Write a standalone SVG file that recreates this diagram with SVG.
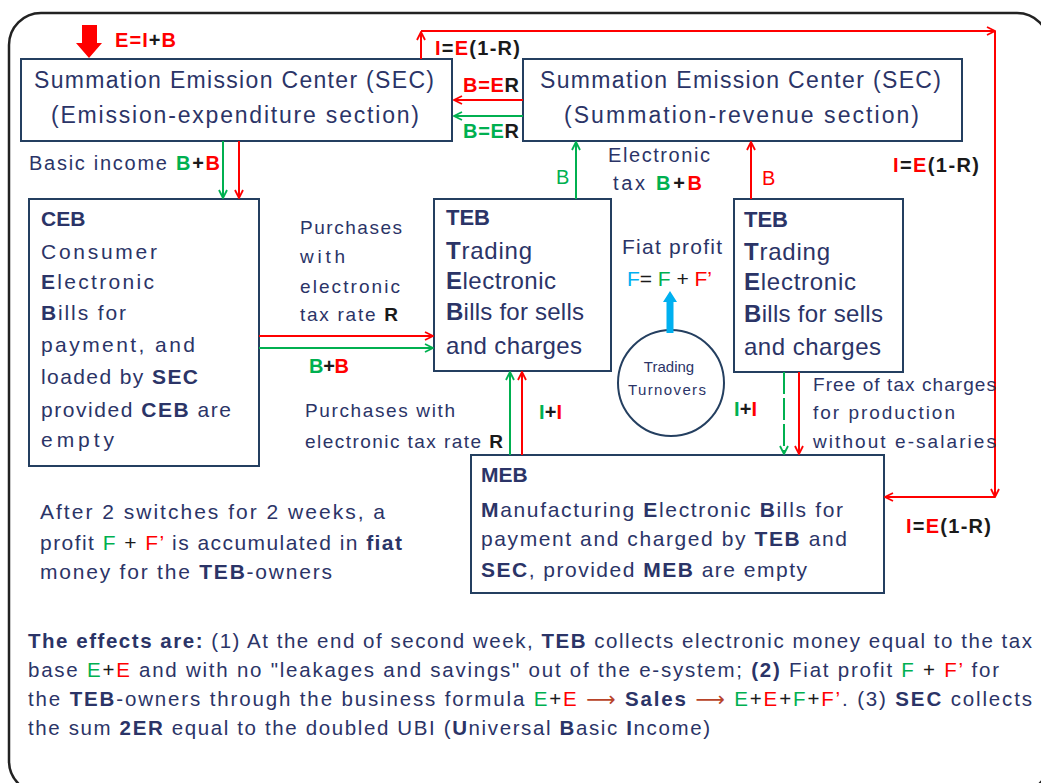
<svg xmlns="http://www.w3.org/2000/svg" width="1041" height="783" viewBox="0 0 1041 783">
<style>
.t{font-family:"Liberation Sans",Arial,sans-serif;fill:#2B3467;}
.b{font-weight:bold;}
.r{fill:#FF0000;}
.g{fill:#00B050;}
.k{fill:#1A1A1A;}
.c{fill:#00B0F0;}
.br{fill:#B8442A;}
.box{fill:#FFFFFF;stroke:#243F60;stroke-width:2;}
.lr{stroke:#FF0000;stroke-width:2;fill:none;}
.lg{stroke:#00B050;stroke-width:2;fill:none;}
</style>
<defs>
<marker id="ar" viewBox="0 0 10 10" refX="9" refY="5" markerWidth="10" markerHeight="10" markerUnits="userSpaceOnUse" orient="auto"><path d="M1,1 L9,5 L1,9" fill="none" stroke="#FF0000" stroke-width="1.8"/></marker>
<marker id="ag" viewBox="0 0 10 10" refX="9" refY="5" markerWidth="10" markerHeight="10" markerUnits="userSpaceOnUse" orient="auto"><path d="M1,1 L9,5 L1,9" fill="none" stroke="#00B050" stroke-width="1.8"/></marker>
</defs>
<rect width="1041" height="783" fill="#FFFFFF"/>
<rect x="9" y="13" width="1040" height="780" rx="32" fill="#FFFFFF" stroke="#222222" stroke-width="2.5"/>

<g id="sec-left">
<rect class="box" x="21" y="59" width="431" height="82"/>
<text class="t" x="34" y="88" font-size="23" textLength="400">Summation  Emission Center (SEC)</text>
<text class="t" x="51" y="123" font-size="23" textLength="368">(Emission-expenditure section)</text>
</g>
<g id="sec-right">
<rect class="box" x="523" y="59" width="439" height="82"/>
<text class="t" x="540" y="88" font-size="23" textLength="401">Summation  Emission Center (SEC)</text>
<text class="t" x="564" y="123" font-size="23" textLength="355">(Summation-revenue  section)</text>
</g>
<g id="ceb">
<rect class="box" x="29" y="199" width="230" height="267"/>
<text class="t b" x="41" y="226" font-size="21">CEB</text>
<text class="t" x="41" y="259" font-size="21" textLength="116">Consumer</text>
<text class="t" x="41" y="289" font-size="21" textLength="113"><tspan class="b">E</tspan>lectronic</text>
<text class="t" x="41" y="320" font-size="21" textLength="85"><tspan class="b">B</tspan>ills for</text>
<text class="t" x="41" y="352" font-size="21" textLength="154">payment, and</text>
<text class="t" x="41" y="384" font-size="21" textLength="157">loaded by <tspan class="b">SEC</tspan></text>
<text class="t" x="41" y="417" font-size="21" textLength="190">provided <tspan class="b">CEB</tspan> are</text>
<text class="t" x="41" y="447" font-size="21" textLength="73">empty</text>
</g>
<g id="teb-left">
<rect class="box" x="434" y="199" width="177" height="172"/>
<text class="t b" x="446" y="225" font-size="22">TEB</text>
<text class="t" x="446" y="259" font-size="24" textLength="86"><tspan class="b">T</tspan>rading</text>
<text class="t" x="446" y="289" font-size="24" textLength="110"><tspan class="b">E</tspan>lectronic</text>
<text class="t" x="446" y="320" font-size="24" textLength="138"><tspan class="b">B</tspan>ills for sells</text>
<text class="t" x="446" y="354" font-size="24" textLength="136">and charges</text>
</g>
<g id="teb-right">
<rect class="box" x="734" y="199" width="169" height="173"/>
<text class="t b" x="744" y="227" font-size="22">TEB</text>
<text class="t" x="744" y="260" font-size="24" textLength="86"><tspan class="b">T</tspan>rading</text>
<text class="t" x="744" y="290" font-size="24" textLength="112"><tspan class="b">E</tspan>lectronic</text>
<text class="t" x="744" y="322" font-size="24" textLength="139"><tspan class="b">B</tspan>ills for sells</text>
<text class="t" x="744" y="355" font-size="24" textLength="137">and charges</text>
</g>
<g id="meb">
<rect class="box" x="471" y="455" width="413" height="138"/>
<text class="t b" x="481" y="482" font-size="21">MEB</text>
<text class="t" x="481" y="517" font-size="21" textLength="362"><tspan class="b">M</tspan>anufacturing <tspan class="b">E</tspan>lectronic <tspan class="b">B</tspan>ills for</text>
<text class="t" x="481" y="546" font-size="21" textLength="366">payment and charged by <tspan class="b">TEB</tspan> and</text>
<text class="t" x="481" y="577" font-size="21" textLength="326"><tspan class="b">SEC</tspan>, provided <tspan class="b">MEB</tspan> are empty</text>
</g>
<g id="trading-turnovers">
<circle cx="671" cy="383" r="53" fill="#FFFFFF" stroke="#243F60" stroke-width="2"/>
<text class="t" x="669" y="372" font-size="15" text-anchor="middle">Trading</text>
<text class="t" x="667" y="395" font-size="15" text-anchor="middle" textLength="78">Turnovers</text>
</g>

<g id="connectors">
<path class="lg" d="M223,141 V198" marker-end="url(#ag)"/>
<path class="lr" d="M239,141 V198" marker-end="url(#ar)"/>
<path class="lr" d="M259,336 H433" marker-end="url(#ar)"/>
<path class="lg" d="M259,348 H433" marker-end="url(#ag)"/>
<path class="lr" d="M523,100 H454" marker-end="url(#ar)"/>
<path class="lg" d="M523,116 H454" marker-end="url(#ag)"/>
<path class="lg" d="M576,199 V142" marker-end="url(#ag)"/>
<path class="lr" d="M751,199 V142" marker-end="url(#ar)"/>
<path class="lg" d="M510,455 V372" marker-end="url(#ag)"/>
<path class="lr" d="M522,455 V372" marker-end="url(#ar)"/>
<path class="lg" d="M784,372 V454" stroke-dasharray="22 4" marker-end="url(#ag)"/>
<path class="lr" d="M799,372 V454" marker-end="url(#ar)"/>
<path class="lr" d="M421,59 V32" marker-end="url(#ar)"/>
<path class="lr" d="M421,31 H995" marker-end="url(#ar)"/>
<path class="lr" d="M995,31 V497" marker-end="url(#ar)"/>
<path class="lr" d="M995,497 H885" marker-end="url(#ar)"/>
<polygon points="82,25 97,25 97,43 102,43 89,58 76,43 82,43" fill="#FF0000"/>
<polygon points="666.5,333 673.5,333 673.5,302 677,302 670,291 663,302 666.5,302" fill="#00B0F0"/>
</g>

<g id="labels">
<text class="t r b" x="115" y="47" font-size="20" textLength="61">E=I<tspan class="k">+</tspan>B</text>
<text class="t k b" x="435" y="55" font-size="20" textLength="85"><tspan class="r">I</tspan>=<tspan class="r">E</tspan>(1-R)</text>
<text class="t r b" x="463" y="92" font-size="20" textLength="56">B=E<tspan class="k">R</tspan></text>
<text class="t g b" x="463" y="138" font-size="20" textLength="56">B=E<tspan class="k">R</tspan></text>
<text class="t" x="29" y="170" font-size="20" textLength="191">Basic income <tspan class="g b">B</tspan><tspan class="k b">+</tspan><tspan class="r b">B</tspan></text>
<text class="t" x="608" y="162" font-size="20" textLength="102">Electronic</text>
<text class="t" x="613" y="190" font-size="20" textLength="89">tax  <tspan class="g b">B</tspan><tspan class="k b">+</tspan><tspan class="r b">B</tspan></text>
<text class="t g" x="556" y="184" font-size="20">B</text>
<text class="t r" x="762" y="185" font-size="20">B</text>
<text class="t k b" x="893" y="172" font-size="20" textLength="86"><tspan class="r">I</tspan>=<tspan class="r">E</tspan>(1-R)</text>
<text class="t" x="300" y="234" font-size="19" textLength="102">Purchases</text>
<text class="t" x="300" y="263" font-size="19" textLength="45">with</text>
<text class="t" x="300" y="293" font-size="19" textLength="100">electronic</text>
<text class="t" x="300" y="321" font-size="19" textLength="98">tax rate <tspan class="k b">R</tspan></text>
<text class="t b" x="309" y="373" font-size="20" textLength="40"><tspan class="g">B</tspan><tspan class="k">+</tspan><tspan class="r">B</tspan></text>
<text class="t" x="305" y="417" font-size="19" textLength="150">Purchases with</text>
<text class="t" x="305" y="448" font-size="19" textLength="198">electronic  tax rate <tspan class="k b">R</tspan></text>
<text class="t" x="622" y="254" font-size="21" textLength="100">Fiat profit</text>
<text class="t k" x="627" y="286" font-size="21" textLength="85"><tspan class="c">F</tspan>= <tspan class="g">F</tspan> + <tspan class="r">F’</tspan></text>
<text class="t k b" x="539" y="419" font-size="20" textLength="23"><tspan class="g">I</tspan>+<tspan class="r">I</tspan></text>
<text class="t k b" x="734" y="416" font-size="20" textLength="23"><tspan class="g">I</tspan>+<tspan class="r">I</tspan></text>
<text class="t" x="813" y="391" font-size="19" textLength="183">Free of tax charges</text>
<text class="t" x="813" y="419" font-size="19" textLength="142">for production</text>
<text class="t" x="813" y="448" font-size="19" textLength="183">without  e-salaries</text>
<text class="t k b" x="906" y="533" font-size="20" textLength="85"><tspan class="r">I</tspan>=<tspan class="r">E</tspan>(1-R)</text>
<text class="t" x="40" y="519" font-size="21" textLength="345">After 2 switches for 2 weeks, a</text>
<text class="t" x="40" y="550" font-size="21" textLength="362">profit <tspan class="g">F</tspan> <tspan class="k">+</tspan> <tspan class="r">F’</tspan> is accumulated in <tspan class="b">fiat</tspan></text>
<text class="t" x="40" y="579" font-size="21" textLength="292">money for the <tspan class="b">TEB</tspan>-owners</text>
<text class="t" x="28" y="648" font-size="20.5" textLength="1004"><tspan class="b">The effects are:</tspan> (1) At the end of second week, <tspan class="b">TEB</tspan> collects electronic money equal to the tax</text>
<text class="t" x="28" y="677" font-size="20.5" textLength="971">base <tspan class="g">E</tspan><tspan class="k">+</tspan><tspan class="r">E</tspan> and  with no "leakages and  savings" out of the e-system; <tspan class="b">(2)</tspan> Fiat profit  <tspan class="g">F</tspan> <tspan class="k">+</tspan> <tspan class="r">F’</tspan> for</text>
<text class="t" x="28" y="706" font-size="20.5" textLength="1004">the <tspan class="b">TEB</tspan>-owners  through the business  formula <tspan class="g">E</tspan><tspan class="k">+</tspan><tspan class="r">E</tspan>  <tspan class="br" font-family="DejaVu Sans, sans-serif">⟶</tspan> <tspan class="b">Sales</tspan> <tspan class="br" font-family="DejaVu Sans, sans-serif">⟶</tspan> <tspan class="g">E</tspan><tspan class="k">+</tspan><tspan class="r">E</tspan><tspan class="k">+</tspan><tspan class="g">F</tspan><tspan class="k">+</tspan><tspan class="r">F’</tspan>. (3) <tspan class="b">SEC</tspan> collects</text>
<text class="t" x="28" y="735" font-size="20.5" textLength="682">the sum <tspan class="b">2ER</tspan> equal to the doubled UBI (<tspan class="b">U</tspan>niversal <tspan class="b">B</tspan>asic <tspan class="b">I</tspan>ncome)</text>
</g>
</svg>
